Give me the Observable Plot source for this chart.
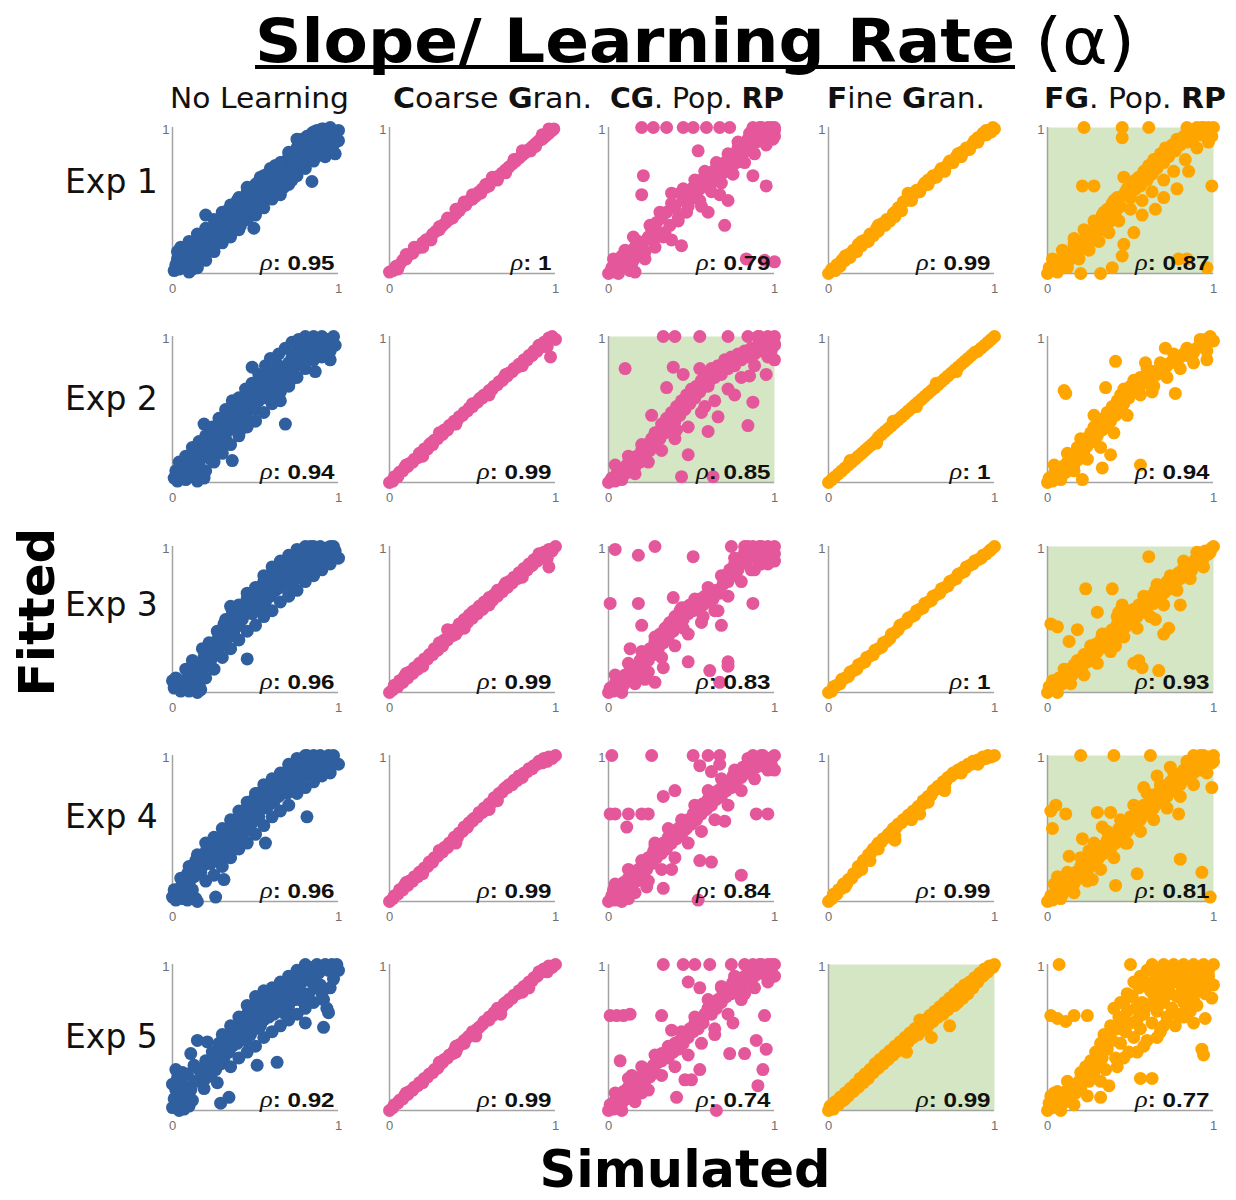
<!DOCTYPE html>
<html><head><meta charset="utf-8">
<script src="https://cdn.jsdelivr.net/npm/d3@7"></script>
<script src="https://cdn.jsdelivr.net/npm/@observablehq/plot@0.6"></script>
<style>
html,body{margin:0;padding:0;background:#fff;}
body{width:1236px;height:1200px;position:relative;overflow:hidden;}
#labels{position:absolute;left:0;top:0;}
</style></head><body>
<svg id="labels" width="1236" height="1200"></svg>
<script>
// ---- categories / labels ----
const columns = ["No Learning", "Coarse Gran.", "CG. Pop. RP", "Fine Gran.", "FG. Pop. RP"];
const experiments = ["Exp 1", "Exp 2", "Exp 3", "Exp 4", "Exp 5"];
const columnColors = ["#2f5f9f", "#e5579b", "#e5579b", "#ffa500", "#ffa500"];
const xTicks = [0, 1];
const yTicks = [1];
const rhoLabels = [
  ["0.95", "1", "0.79", "0.99", "0.87"],
  ["0.94", "0.99", "0.85", "1", "0.94"],
  ["0.96", "0.99", "0.83", "1", "0.93"],
  ["0.96", "0.99", "0.84", "0.99", "0.81"],
  ["0.92", "0.99", "0.74", "0.99", "0.77"]
];
const highlighted = [
  [false, false, false, false, true],
  [false, false, true, false, false],
  [false, false, false, false, true],
  [false, false, false, false, true],
  [false, false, false, true, false]
];

// ---- series values: [simulated, fitted] in hundredths ----
const exp1NoLearning = [[1,2],[2,6],[3,10],[4,3],[5,7],[6,12],[7,4],[8,9],[9,14],[10,6],[11,11],[12,3],[13,16],[14,9],[15,13],[3,15],[7,17],[16,20],[17,10],[18,17],[19,23],[20,14],[20,40],[21,20],[22,27],[23,17],[24,23],[25,31],[26,20],[27,27],[28,34],[29,24],[30,30],[31,37],[32,28],[33,43],[34,33],[35,40],[36,30],[37,46],[38,36],[39,50],[40,42],[41,33],[42,47],[43,52],[44,40],[45,56],[46,46],[47,52],[48,58],[49,31],[50,48],[51,62],[52,54],[53,66],[54,58],[55,50],[56,62],[57,68],[58,56],[59,72],[60,64],[61,58],[62,74],[63,66],[64,70],[65,61],[66,76],[67,59],[68,72],[69,66],[70,80],[71,70],[72,64],[73,76],[74,82],[75,72],[76,88],[77,80],[78,92],[79,76],[80,86],[81,94],[82,82],[83,90],[84,63],[84,96],[85,86],[86,92],[87,98],[88,84],[89,94],[90,88],[91,99],[92,90],[93,96],[94,86],[95,92],[96,97],[97,88],[98,94],[92,80],[75,92],
  [5,18],[10,22],[15,27],[20,31],[25,37],[30,42],[35,47],[40,52],[45,59],[50,61],[55,67],[60,71],[65,76],[70,83],[75,86],[80,91],[85,97],[90,99],[95,100],[100,98],[10,1],[15,4],[20,9],[25,15],[30,21],[35,25],[40,30],[45,37],[50,40],[55,45],[60,51],[65,54],[70,61],[75,67],[80,72],[85,77],[90,81],[95,85],[100,91],[98,82]];
const exp1CoarseGran = [[0,1],[2,2],[4,5],[6,6],[8,9],[10,10],[12,13],[14,14],[16,17],[18,18],[20,21],[22,23],[24,24],[26,27],[28,29],[30,30],[32,33],[34,35],[36,37],[38,38],[40,41],[42,43],[44,46],[46,47],[48,50],[50,51],[52,53],[54,56],[56,58],[58,59],[60,62],[62,64],[64,65],[66,67],[68,69],[70,71],[72,73],[74,75],[76,77],[78,79],[80,81],[82,83],[84,85],[86,87],[88,89],[90,91],[92,92],[94,94],[96,96],[98,98],[99,99],[45,49],[55,55],[62,66],[70,69],[30,32],[80,84],[88,87],
  [10,13],[20,18],[35,38],[50,54],[58,61],[65,64],[75,78],[85,84],[92,95],[96,99],[5,3],[15,18],[25,23],[40,44],[60,60]];
const exp1CGPopRP = [[20,100],[27,100],[35,100],[45,100],[51,100],[59,100],[67,100],[73,100],[87,100],[91,100],[96,100],[100,100],[54,84],[21,67],[20,54],[95,60],[70,33],[87,67],[83,10],[100,8],[94,9],[44,19],[67,54],[60,42],[38,23],[15,25],[72,50],[0,0],[2,4],[4,1],[5,8],[7,3],[8,12],[10,6],[12,14],[13,2],[15,9],[16,18],[18,12],[16,1],[20,20],[22,15],[24,25],[26,30],[27,22],[29,35],[30,28],[32,38],[33,25],[35,42],[37,33],[38,55],[40,45],[42,38],[43,55],[45,50],[47,42],[48,56],[50,58],[52,52],[53,62],[55,58],[56,46],[57,65],[59,60],[60,67],[62,62],[63,70],[65,66],[66,74],[68,68],[70,76],[71,70],[73,78],[74,72],[76,82],[77,76],[78,86],[80,80],[81,88],[83,84],[84,92],[86,88],[87,95],[89,90],[90,97],[92,92],[93,98],[95,94],[96,99],[98,96],[99,92],[100,98],
  [3,10],[6,0],[10,16],[14,4],[18,22],[22,10],[25,33],[28,18],[31,42],[34,28],[38,48],[42,36],[45,58],[48,46],[52,64],[55,50],[58,70],[62,56],[65,76],[68,62],[72,82],[75,68],[78,90],[82,76],[85,96],[88,82],[92,100],[95,88],[98,100],[100,94]];
const exp1FineGran = [[0,0],[2,3],[4,2],[5,6],[7,5],[8,9],[10,9],[12,13],[13,11],[15,16],[17,15],[18,20],[20,19],[22,23],[24,22],[25,27],[27,26],[29,31],[30,29],[32,34],[34,33],[35,37],[37,36],[39,41],[40,39],[42,45],[44,43],[45,49],[47,50],[48,53],[50,52],[52,55],[53,57],[55,56],[57,60],[58,62],[60,61],[62,65],[63,67],[65,66],[67,70],[68,72],[70,71],[72,75],[73,77],[75,76],[77,80],[78,82],[80,80],[82,84],[83,86],[85,85],[87,89],[88,91],[90,90],[92,94],[93,96],[95,95],[96,98],[98,97],[99,100],[100,99],
  [10,12],[20,22],[30,33],[40,42],[48,55],[50,50],[60,64],[70,70],[80,83],[90,93],[95,98]];
const exp1FGPopRP = [[22,100],[45,100],[61,100],[84,100],[90,100],[94,100],[97,100],[100,100],[45,93],[95,95],[99,94],[21,60],[28,60],[46,66],[78,58],[99,60],[20,0],[32,0],[39,4],[45,12],[46,20],[52,28],[79,10],[84,10],[96,4],[57,40],[65,44],[70,52],[85,70],[0,0],[1,4],[3,2],[4,8],[6,5],[8,10],[10,6],[11,13],[13,9],[15,15],[16,20],[18,14],[20,22],[22,18],[24,26],[26,22],[27,30],[29,25],[31,34],[33,40],[34,30],[36,44],[38,36],[39,48],[41,42],[42,52],[44,46],[46,54],[48,58],[50,52],[51,62],[53,58],[55,66],[56,60],[58,70],[60,64],[61,74],[63,68],[64,78],[66,72],[68,82],[70,76],[71,86],[73,80],[75,88],[77,84],[78,92],[80,88],[82,94],[84,90],[86,96],[88,93],[90,97],[92,95],[94,98],[96,96],[98,99],
  [3,10],[6,1],[9,16],[12,4],[16,24],[19,10],[22,30],[25,16],[28,36],[31,22],[34,42],[37,28],[40,50],[43,36],[47,56],[50,44],[53,64],[57,50],[60,70],[63,56],[66,78],[70,64],[73,84],[76,70],[80,92],[83,78],[86,98],[90,86],[93,100],[97,90]];

const exp2NoLearning = [[1,3],[2,8],[3,1],[5,5],[6,10],[8,2],[9,7],[10,13],[12,4],[13,9],[15,1],[16,14],[17,7],[19,3],[14,20],[16,24],[18,17],[19,40],[20,27],[21,21],[22,31],[23,16],[24,26],[25,35],[26,22],[27,30],[28,38],[29,26],[30,34],[31,42],[32,30],[33,47],[34,36],[35,41],[36,15],[37,50],[38,40],[39,55],[40,46],[41,36],[42,52],[43,44],[44,58],[45,48],[46,62],[47,54],[48,79],[49,60],[50,50],[51,66],[52,56],[53,70],[54,62],[55,74],[56,58],[57,68],[58,64],[59,85],[60,72],[61,60],[62,76],[63,68],[64,80],[65,56],[66,72],[67,78],[68,40],[69,74],[70,82],[71,70],[72,86],[73,78],[74,88],[75,82],[76,90],[77,86],[78,94],[79,84],[80,96],[81,90],[82,98],[83,88],[84,94],[85,100],[86,76],[87,92],[88,97],[89,90],[90,100],[91,95],[92,92],[93,98],[95,84],[96,96],[97,100],[98,94],
  [4,14],[8,18],[12,24],[16,28],[20,32],[24,38],[28,44],[32,50],[36,56],[40,58],[44,64],[48,68],[52,74],[56,80],[60,84],[64,88],[68,92],[72,96],[76,98],[80,100],[20,8],[25,14],[30,20],[35,26],[40,32],[45,38],[50,42],[55,48],[60,54],[65,62],[70,66],[75,72],[80,78],[85,84],[90,86],[95,90]];
const exp2CoarseGran = [[0,0],[2,1],[3,4],[5,4],[6,7],[8,8],[9,10],[11,11],[12,13],[14,14],[15,16],[17,17],[18,20],[20,20],[21,23],[23,23],[24,26],[26,26],[27,29],[29,30],[30,32],[32,33],[33,36],[35,36],[36,39],[38,40],[39,42],[41,43],[42,45],[44,46],[45,48],[47,49],[48,51],[50,52],[51,54],[53,55],[54,57],[56,58],[57,60],[59,61],[60,63],[62,64],[63,66],[65,67],[66,69],[68,70],[69,72],[71,73],[72,75],[74,76],[75,78],[77,79],[78,81],[80,82],[81,84],[83,84],[84,87],[86,87],[87,90],[89,90],[90,93],[92,93],[93,96],[95,96],[96,99],[97,86],[98,100],[100,98],
  [10,12],[20,18],[30,34],[40,40],[50,54],[60,60],[70,74],[80,80],[90,94],[95,93],[25,27],[55,58]];
const exp2CGPopRP = [[33,100],[40,100],[55,100],[72,100],[84,100],[91,100],[96,100],[100,100],[100,94],[100,84],[98,90],[10,78],[39,79],[45,74],[55,78],[62,73],[70,79],[85,73],[95,74],[60,35],[84,39],[87,55],[44,4],[63,4],[48,19],[41,36],[26,46],[48,60],[76,60],[35,65],[58,52],[66,45],[0,0],[2,3],[4,1],[5,6],[7,4],[8,9],[10,6],[11,12],[13,8],[14,15],[16,11],[17,18],[19,14],[20,22],[22,18],[23,26],[25,22],[26,30],[28,26],[29,34],[31,30],[32,40],[34,34],[35,44],[37,38],[38,48],[40,42],[41,52],[43,46],[44,56],[46,50],[47,60],[49,54],[50,64],[52,58],[53,66],[55,62],[56,70],[58,66],[59,74],[61,70],[62,78],[64,72],[66,80],[68,76],[70,84],[72,78],[74,86],[76,82],[78,88],[80,84],[82,90],[84,86],[86,92],[88,88],[90,94],[92,90],[94,96],[96,92],[98,97],[100,95],
  [4,12],[8,2],[12,18],[16,6],[20,26],[24,14],[28,34],[32,22],[36,42],[40,30],[44,50],[48,38],[52,58],[56,48],[60,66],[64,56],[68,74],[72,64],[76,80],[80,72],[84,88],[88,80],[92,96],[96,86],[90,100]];
const exp2FineGran = [[0,0],[2,2],[4,4],[6,6],[8,8],[10,10],[12,12],[14,14],[16,16],[18,18],[20,20],[22,22],[24,24],[26,26],[28,28],[30,31],[32,33],[34,35],[36,37],[38,39],[40,41],[42,43],[44,45],[46,47],[48,49],[50,51],[52,53],[54,55],[56,57],[58,59],[60,61],[62,63],[64,65],[66,67],[68,69],[70,71],[72,73],[74,75],[76,77],[78,79],[80,81],[82,83],[84,85],[86,87],[88,89],[90,90],[92,92],[94,94],[96,96],[98,98],[100,100],[13,15],[29,27],[39,42],[53,52],[65,68],[77,76]];
const exp2FGPopRP = [[11,61],[10,63],[41,83],[59,82],[71,92],[28,46],[38,19],[33,10],[21,2],[56,12],[77,61],[96,84],[35,65],[46,64],[63,62],[0,0],[1,3],[3,1],[4,6],[5,3],[7,8],[8,4],[9,11],[11,7],[12,14],[13,9],[15,16],[16,12],[17,20],[18,24],[19,16],[20,26],[22,22],[23,30],[24,25],[26,34],[27,28],[29,36],[30,32],[31,40],[33,36],[34,44],[35,38],[36,48],[38,42],[39,52],[41,46],[42,56],[43,50],[44,60],[46,54],[47,62],[49,58],[50,66],[52,62],[53,68],[55,64],[56,72],[58,68],[60,74],[62,70],[64,76],[66,74],[68,78],[70,76],[72,80],[74,82],[76,84],[78,82],[80,86],[82,88],[84,87],[86,90],[88,89],[90,92],[92,95],[94,93],[95,98],[97,96],[98,100],[100,97],
  [4,12],[8,2],[12,20],[16,8],[20,30],[24,16],[28,38],[32,24],[36,46],[40,34],[44,54],[48,46],[52,70],[56,60],[60,78],[64,66],[68,82],[72,72],[76,88],[80,78],[84,92],[88,82],[92,98],[96,90]];

const exp3NoLearning = [[0,8],[1,3],[2,10],[3,5],[5,1],[6,8],[8,3],[9,9],[10,1],[11,6],[13,3],[14,9],[15,0],[16,5],[17,2],[14,14],[16,20],[18,16],[19,24],[20,19],[22,28],[23,22],[25,32],[26,26],[27,36],[28,30],[30,40],[31,34],[31,47],[33,44],[34,38],[35,59],[36,48],[37,42],[38,52],[40,46],[41,56],[42,50],[43,60],[44,54],[45,23],[45,64],[46,57],[47,62],[48,54],[49,68],[50,60],[51,64],[52,72],[53,58],[54,66],[55,76],[56,62],[57,70],[58,80],[59,66],[60,74],[61,82],[62,70],[63,78],[64,86],[65,72],[66,80],[67,88],[68,76],[69,84],[70,74],[71,90],[72,82],[73,86],[74,78],[75,92],[76,84],[77,88],[78,96],[79,82],[80,90],[81,94],[82,86],[83,100],[84,92],[85,96],[86,88],[87,98],[88,94],[89,100],[90,90],[91,97],[92,94],[93,99],[94,92],[95,100],[96,96],[97,100],[98,97],
  [8,16],[12,22],[18,30],[22,34],[27,42],[32,50],[36,56],[40,60],[45,68],[50,72],[55,80],[60,86],[65,90],[70,94],[75,98],[80,100],[85,100],[20,10],[25,16],[30,24],[35,30],[40,36],[45,42],[50,46],[55,52],[60,56],[65,62],[70,66],[75,70],[80,76],[85,80],[90,84],[95,88],[100,92]];
const exp3CoarseGran = [[0,0],[2,2],[3,5],[5,4],[6,8],[8,7],[9,11],[11,10],[12,14],[14,13],[15,17],[17,16],[18,20],[20,20],[21,23],[23,23],[24,26],[26,26],[27,30],[29,29],[30,33],[32,32],[33,36],[35,36],[36,40],[38,39],[39,43],[41,42],[42,47],[44,45],[45,50],[47,48],[48,53],[50,51],[51,56],[53,54],[54,59],[56,57],[57,62],[59,60],[60,65],[62,63],[63,67],[65,66],[66,70],[68,69],[69,73],[71,72],[72,76],[74,75],[75,79],[77,78],[78,82],[80,81],[81,85],[83,84],[84,88],[86,87],[87,91],[89,90],[90,94],[92,92],[93,96],[95,95],[96,98],[98,97],[100,100],[96,86],[35,43],
  [10,13],[20,18],[30,34],[40,40],[50,55],[60,60],[70,75],[80,79],[90,95],[95,92],[45,44],[65,70]];
const exp3CGPopRP = [[4,98],[18,94],[28,100],[51,93],[74,100],[82,100],[87,100],[91,100],[96,100],[100,100],[1,61],[18,61],[39,65],[20,46],[13,30],[28,33],[48,21],[33,17],[22,9],[28,7],[61,15],[67,7],[72,21],[72,18],[68,46],[87,61],[66,56],[57,52],[45,44],[0,0],[1,3],[3,1],[4,6],[6,3],[7,9],[9,5],[10,12],[12,8],[13,15],[15,10],[16,18],[18,14],[19,22],[21,18],[22,26],[24,22],[25,30],[27,26],[28,35],[30,30],[31,40],[33,34],[34,44],[36,38],[37,48],[39,42],[40,52],[42,46],[43,56],[45,50],[46,58],[48,54],[49,60],[51,56],[52,62],[54,58],[55,64],[57,60],[58,66],[60,62],[61,68],[63,64],[65,70],[67,68],[69,74],[70,80],[72,76],[73,84],[75,80],[76,88],[78,84],[79,92],[80,88],[82,96],[83,90],[85,94],[86,84],[88,98],[89,92],[91,96],[92,88],[94,99],[95,94],[97,97],[98,90],[100,95],
  [4,12],[8,0],[12,20],[16,6],[20,28],[24,14],[28,38],[32,24],[36,46],[40,32],[44,58],[48,40],[52,64],[56,48],[60,72],[64,56],[68,80],[72,66],[76,92],[80,76],[84,100],[88,84],[92,100],[96,88],[100,90]];
const exp3FineGran = [[0,0],[2,1],[3,4],[5,5],[7,6],[8,9],[10,10],[12,11],[13,14],[15,15],[17,16],[18,19],[20,20],[22,21],[23,24],[25,25],[27,26],[28,29],[30,30],[32,31],[33,34],[35,35],[37,37],[38,40],[40,41],[42,43],[43,46],[45,47],[47,48],[48,51],[50,52],[52,53],[53,56],[55,57],[57,58],[58,61],[60,62],[62,63],[63,66],[65,67],[67,68],[68,71],[70,72],[72,73],[73,76],[75,77],[77,78],[78,81],[80,82],[82,83],[83,86],[85,87],[87,88],[88,90],[90,91],[92,92],[93,94],[95,95],[97,97],[98,98],[100,100]];
const exp3FGPopRP = [[2,47],[6,45],[18,43],[23,71],[39,71],[45,60],[61,93],[73,44],[41,32],[55,22],[52,20],[57,17],[67,15],[30,55],[43,55],[65,50],[80,60],[13,35],[33,40],[70,40],[0,0],[1,4],[3,2],[4,7],[6,4],[7,10],[9,6],[10,13],[12,9],[13,16],[15,12],[16,19],[18,15],[19,22],[21,18],[22,26],[24,21],[26,29],[27,24],[29,33],[30,28],[32,36],[34,31],[35,40],[37,35],[39,43],[40,38],[42,47],[44,42],[45,50],[47,45],[49,53],[50,48],[52,57],[54,52],[55,60],[57,55],[59,63],[60,58],[62,66],[64,61],[65,70],[67,65],[69,73],[70,68],[72,76],[74,71],[75,79],[77,74],[79,82],[80,78],[82,85],[84,81],[85,88],[87,84],[89,91],[90,88],[92,94],[94,92],[95,97],[97,95],[99,99],[100,100],
  [3,8],[6,0],[10,16],[14,6],[18,22],[22,12],[26,32],[30,20],[34,38],[38,28],[42,52],[46,38],[50,56],[54,44],[58,66],[62,52],[66,74],[70,60],[74,80],[78,70],[82,90],[86,78],[90,96],[94,86],[98,96]];

const exp4NoLearning = [[0,3],[1,8],[2,1],[4,5],[5,10],[6,2],[8,7],[9,1],[10,12],[11,4],[12,8],[14,2],[15,0],[26,3],[31,15],[9,19],[11,24],[13,17],[14,28],[15,22],[17,20],[18,30],[19,25],[20,34],[22,29],[23,26],[24,38],[25,32],[27,42],[28,35],[29,29],[30,40],[31,46],[32,36],[33,48],[34,42],[35,52],[36,38],[37,46],[38,56],[39,50],[40,44],[41,58],[42,52],[43,62],[44,48],[45,56],[46,66],[47,60],[48,54],[49,70],[50,62],[51,74],[52,58],[53,68],[54,72],[55,64],[56,40],[56,76],[57,70],[58,66],[59,80],[60,74],[61,68],[62,78],[63,84],[64,72],[65,80],[66,76],[67,88],[68,82],[69,74],[70,86],[71,90],[72,80],[73,84],[74,94],[75,88],[76,82],[77,92],[78,96],[79,86],[80,92],[81,58],[81,100],[82,90],[83,96],[84,88],[85,100],[86,94],[87,98],[88,92],[89,100],[90,96],[91,90],[92,98],[93,94],[94,100],[95,92],[96,97],[97,100],[98,95],
  [5,16],[10,24],[15,32],[20,40],[25,44],[30,50],[35,56],[40,62],[45,68],[50,74],[55,80],[60,84],[65,88],[70,94],[75,98],[80,100],[20,14],[25,18],[30,24],[35,30],[40,36],[45,40],[50,46],[55,52],[60,58],[65,62],[70,66],[75,74],[80,78],[85,82],[90,86],[95,88],[100,94]];
const exp4CoarseGran = [[0,0],[2,2],[3,4],[5,5],[6,8],[8,8],[9,11],[11,11],[12,14],[14,14],[15,17],[17,17],[18,20],[20,21],[21,23],[23,24],[24,27],[26,27],[27,30],[29,31],[30,33],[32,34],[33,37],[35,37],[36,40],[38,41],[39,44],[41,44],[42,47],[44,48],[45,51],[47,51],[48,54],[50,55],[51,57],[53,58],[54,61],[56,61],[57,64],[59,65],[60,67],[62,68],[63,71],[65,71],[66,74],[68,75],[69,77],[71,78],[72,80],[74,80],[75,83],[77,83],[78,86],[80,86],[81,88],[83,89],[84,91],[86,91],[87,93],[89,94],[90,96],[92,95],[93,98],[95,97],[96,99],[98,98],[100,100],
  [10,13],[20,19],[30,35],[40,40],[50,56],[60,63],[70,78],[80,85],[90,95],[95,96],[45,50],[65,69]];
const exp4CGPopRP = [[2,100],[26,100],[51,100],[60,100],[67,100],[87,100],[90,96],[93,100],[96,98],[100,100],[98,94],[100,90],[92,93],[55,93],[62,89],[67,94],[40,76],[33,72],[1,60],[4,60],[12,60],[20,60],[24,60],[11,51],[89,60],[96,60],[55,28],[62,27],[80,18],[33,9],[23,10],[54,1],[12,2],[4,1],[28,40],[45,48],[70,55],[38,22],[0,0],[2,4],[3,8],[5,3],[6,10],[8,6],[9,13],[11,9],[12,16],[14,12],[15,19],[17,14],[18,22],[20,18],[21,26],[23,22],[24,30],[26,26],[27,34],[29,30],[30,37],[32,33],[33,40],[35,36],[36,44],[38,40],[39,47],[41,43],[42,50],[44,46],[45,53],[47,50],[48,56],[50,53],[51,60],[53,56],[54,63],[56,60],[57,67],[59,63],[60,70],[62,66],[63,73],[65,70],[66,76],[68,72],[69,80],[71,76],[72,82],[74,78],[75,86],[77,82],[78,89],[80,85],[81,92],[83,88],[84,94],[86,90],[87,96],[89,92],[91,98],[93,95],[95,98],[97,96],[99,99],
  [4,12],[8,0],[12,22],[16,6],[20,28],[24,14],[28,38],[32,22],[36,50],[40,30],[44,56],[48,40],[52,66],[56,48],[60,76],[64,56],[68,84],[72,66],[76,90],[80,76],[84,98],[88,84],[92,100],[96,90]];
const exp4FineGran = [[0,0],[2,2],[3,5],[5,5],[6,8],[8,9],[9,12],[11,12],[12,15],[14,16],[15,19],[17,20],[18,24],[20,25],[21,28],[23,29],[24,32],[26,34],[27,36],[29,38],[30,40],[32,41],[33,43],[35,44],[36,46],[38,48],[39,50],[41,51],[42,53],[44,54],[45,56],[47,57],[48,59],[50,60],[51,62],[53,63],[54,65],[56,66],[57,69],[59,70],[60,72],[62,73],[63,76],[65,77],[66,79],[68,80],[69,82],[71,83],[72,85],[74,86],[75,88],[77,88],[78,90],[80,90],[81,92],[83,92],[84,94],[86,94],[87,96],[89,96],[90,97],[92,97],[93,99],[95,98],[96,100],[98,99],[100,100],[70,78],[55,60],[40,45],[25,28],
  [10,10],[20,22],[30,36],[40,42],[50,56],[60,68],[70,76],[80,88],[90,94]];
const exp4FGPopRP = [[20,100],[40,100],[62,100],[88,100],[91,97],[94,100],[97,99],[100,100],[92,93],[99,95],[2,62],[5,66],[11,60],[30,61],[38,61],[33,51],[21,43],[13,31],[6,17],[27,15],[41,11],[54,19],[80,29],[93,20],[98,3],[99,78],[79,60],[3,50],[25,35],[47,40],[0,0],[2,4],[3,1],[5,7],[6,3],[8,10],[9,5],[11,12],[13,8],[14,15],[16,12],[17,20],[19,16],[20,24],[22,20],[23,27],[25,23],[26,31],[28,26],[29,34],[31,30],[33,38],[34,33],[36,42],[38,36],[39,46],[41,40],[43,50],[44,44],[46,54],[48,48],[50,58],[52,52],[54,62],[56,56],[58,66],[60,60],[62,70],[64,64],[66,74],[68,68],[70,78],[72,72],[74,82],[76,76],[78,86],[80,80],[82,90],[84,84],[86,92],[88,88],[90,95],[92,90],[94,97],[96,94],[98,98],
  [4,12],[8,2],[12,20],[16,6],[20,30],[24,14],[28,40],[32,22],[36,48],[40,30],[44,56],[48,40],[52,66],[56,48],[60,74],[64,56],[68,80],[72,64],[76,88],[80,72],[84,96],[88,80],[92,100],[96,88],[100,96],[58,78],[66,86],[74,92]];

const exp5NoLearning = [[0,2],[1,8],[2,14],[3,22],[2,28],[4,4],[5,12],[6,18],[7,1],[8,9],[9,25],[10,3],[11,14],[12,7],[13,20],[0,18],[4,0],[6,26],[15,48],[21,47],[11,39],[13,31],[24,31],[29,5],[34,9],[19,15],[27,19],[33,41],[63,33],[51,31],[91,57],[80,60],[94,67],[84,88],[99,100],[16,20],[18,26],[20,22],[22,30],[23,24],[25,34],[26,28],[28,38],[29,32],[30,44],[31,36],[33,48],[34,40],[35,52],[36,44],[38,54],[39,46],[40,58],[41,50],[42,62],[43,54],[44,48],[45,66],[46,58],[47,52],[48,70],[49,62],[50,56],[51,74],[52,64],[53,58],[54,68],[55,62],[56,76],[57,70],[58,64],[59,78],[60,72],[61,66],[62,80],[63,74],[64,68],[65,82],[66,76],[67,70],[68,84],[69,78],[70,72],[71,86],[72,80],[73,90],[74,76],[75,84],[76,94],[77,82],[78,88],[79,74],[80,96],[81,90],[82,80],[83,98],[85,92],[86,84],[87,100],[88,94],[89,86],[90,98],[91,76],[92,100],[93,70],[94,96],[96,100],[97,90],
  [30,52],[35,58],[40,64],[45,72],[50,78],[55,82],[60,84],[65,88],[70,92],[75,96],[80,100],[35,30],[40,36],[45,40],[50,44],[55,50],[60,54],[65,58],[70,62],[75,66],[80,70],[85,74],[90,80],[95,84],[100,96],[20,34],[24,40],[16,28],[28,46],[44,58],[56,64],[68,66]];
const exp5CoarseGran = [[0,0],[2,2],[3,4],[5,5],[6,7],[8,8],[9,10],[11,11],[12,13],[14,14],[15,16],[17,17],[18,19],[20,20],[21,22],[23,23],[24,25],[26,26],[27,28],[29,29],[30,31],[32,33],[33,35],[35,36],[36,38],[38,39],[39,41],[41,43],[42,45],[44,46],[45,48],[47,50],[48,51],[50,53],[51,54],[53,56],[54,57],[56,59],[57,61],[59,62],[60,64],[62,65],[63,67],[65,68],[66,70],[68,71],[69,73],[71,74],[72,76],[74,77],[75,79],[77,80],[78,82],[80,83],[81,85],[83,86],[84,88],[86,89],[87,91],[89,92],[90,94],[92,95],[93,97],[95,97],[96,99],[98,98],[100,100],[52,51],[67,66],[40,44],[84,84],
  [10,12],[20,19],[30,33],[40,40],[50,54],[60,62],[70,74],[80,81],[90,95],[95,95],[45,46],[65,70]];
const exp5CGPopRP = [[33,100],[45,100],[52,100],[61,100],[74,100],[82,100],[87,100],[91,100],[96,100],[100,100],[48,88],[98,96],[100,92],[1,65],[5,65],[9,65],[13,66],[7,34],[32,65],[55,84],[68,85],[82,80],[94,65],[89,48],[95,42],[73,39],[82,39],[93,28],[90,17],[46,21],[50,21],[41,9],[65,0],[55,28],[32,39],[41,44],[60,70],[75,60],[38,55],[64,52],[0,0],[1,4],[3,1],[4,7],[5,3],[7,10],[8,5],[9,13],[11,8],[12,16],[13,11],[15,19],[16,14],[18,22],[19,17],[21,25],[22,20],[24,28],[25,23],[27,31],[28,26],[30,33],[14,24],[20,12],[32,34],[34,38],[36,36],[37,42],[39,40],[40,46],[42,42],[43,48],[45,46],[46,52],[48,50],[49,56],[51,54],[52,60],[54,56],[55,62],[57,60],[58,66],[60,70],[62,66],[63,72],[65,70],[66,76],[68,74],[69,80],[71,78],[72,84],[74,80],[75,88],[77,84],[78,90],[80,86],[82,92],[84,88],[86,94],[88,92],[90,96],[92,94],[94,98],[96,96],[98,100],
  [4,12],[8,0],[12,22],[16,6],[20,30],[24,14],[28,38],[32,24],[36,44],[40,30],[44,54],[48,38],[52,64],[56,46],[60,76],[64,56],[68,84],[72,66],[76,92],[80,76],[84,98],[88,84],[92,100],[96,88]];
const exp5FineGran = [[0,0],[1,3],[3,1],[4,6],[6,4],[7,9],[9,7],[10,12],[12,10],[13,15],[15,13],[16,18],[18,16],[19,22],[21,19],[22,25],[24,22],[25,28],[27,26],[28,32],[30,29],[31,35],[33,32],[34,38],[36,35],[37,41],[39,38],[40,44],[42,41],[43,47],[45,44],[46,50],[48,47],[49,53],[51,50],[52,56],[54,52],[55,59],[57,55],[58,62],[60,58],[61,65],[63,61],[64,68],[66,64],[67,71],[69,66],[70,74],[72,69],[73,77],[75,72],[76,80],[78,74],[79,83],[81,77],[82,86],[84,80],[85,88],[87,84],[88,91],[90,88],[91,94],[93,92],[94,97],[96,95],[97,99],[99,98],[100,100],[73,58],[62,50],[47,40],[55,62],
  [10,8],[20,22],[30,32],[40,40],[50,52],[60,60],[70,70],[80,80],[90,92],[85,84],[76,72],[66,68]];
const exp5FGPopRP = [[7,100],[50,100],[63,100],[70,100],[76,100],[82,100],[88,100],[94,100],[100,100],[67,95],[85,94],[97,96],[2,65],[6,63],[11,61],[16,65],[24,65],[95,63],[99,77],[93,42],[94,38],[56,22],[63,22],[32,9],[37,17],[88,60],[91,82],[0,0],[1,5],[2,10],[3,2],[5,7],[6,13],[8,4],[9,10],[11,6],[12,14],[14,9],[15,17],[17,12],[19,20],[20,15],[22,24],[23,30],[25,20],[26,34],[28,26],[29,40],[30,30],[32,46],[33,36],[34,52],[35,28],[36,42],[38,58],[39,48],[40,70],[41,36],[42,56],[43,64],[44,46],[45,62],[46,74],[47,54],[48,68],[49,40],[50,60],[51,78],[52,50],[53,70],[54,62],[55,84],[56,56],[57,74],[58,66],[59,88],[60,48],[61,72],[62,82],[63,60],[64,76],[65,90],[66,68],[67,80],[68,54],[69,86],[70,74],[71,92],[72,64],[73,82],[74,80],[75,70],[76,88],[77,58],[78,78],[79,96],[80,66],[81,84],[82,74],[83,92],[84,70],[86,86],[87,78],[89,90],[90,72],[92,88],[95,80],[97,92],
  [4,12],[8,0],[12,20],[16,4],[20,26],[24,10],[28,32],[32,20],[36,52],[40,56],[44,74],[48,80],[52,88],[56,92],[60,96],[64,86],[68,92],[72,98],[76,94],[80,90],[84,82],[88,76],[92,94],[96,88],[100,86],[42,30],[46,36],[54,40],[58,44],[66,50],[70,58],[78,66],[82,64],[86,68],[90,84]];

const panelSeries = [
  [exp1NoLearning, exp1CoarseGran, exp1CGPopRP, exp1FineGran, exp1FGPopRP],
  [exp2NoLearning, exp2CoarseGran, exp2CGPopRP, exp2FineGran, exp2FGPopRP],
  [exp3NoLearning, exp3CoarseGran, exp3CGPopRP, exp3FineGran, exp3FGPopRP],
  [exp4NoLearning, exp4CoarseGran, exp4CGPopRP, exp4FineGran, exp4FGPopRP],
  [exp5NoLearning, exp5CoarseGran, exp5CGPopRP, exp5FineGran, exp5FGPopRP]
];

// ---- layout ----
const panelLeft = [172, 389, 608, 828, 1047];
const panelTop = [127, 336, 546, 755, 964];
const PW = 166, PH = 146;
const M = {top: 12, right: 14, bottom: 28, left: 24};

const body = document.body;
panelSeries.forEach((row, r) => {
  row.forEach((series, c) => {
    const table = series.map(([s, f]) => ({simulated: s / 100, fitted: f / 100}));
    const marks = [];
    if (highlighted[r][c]) marks.push(Plot.frame({fill: "#d5e6c4", stroke: "none"}));
    marks.push(
      Plot.ruleX([0], {stroke: "#a3a3a3", strokeWidth: 1.5}),
      Plot.ruleY([0], {stroke: "#a3a3a3", strokeWidth: 1.5}),
      Plot.axisX({ticks: xTicks, tickSize: 0, tickPadding: 10, fontSize: 13, color: "#707070", label: null, tickFormat: d => String(d)}),
      Plot.axisY({ticks: yTicks, tickSize: 0, tickPadding: 3, fontSize: 13, color: "#707070", dy: 2, label: null, tickFormat: d => String(d)}),
      Plot.dot(table, {x: "simulated", y: "fitted", r: 6.5, fill: columnColors[c], stroke: "none"}),
      Plot.text([rhoLabels[r][c]], {frameAnchor: "bottom-right", text: d => "ρ: " + d, dx: -4, dy: -4,
        textAnchor: "end", lineAnchor: "bottom", fontSize: 21, fontWeight: "bold", fill: "#111"})
    );
    const svg = Plot.plot({
      width: PW + M.left + M.right,
      height: PH + M.top + M.bottom,
      marginLeft: M.left, marginRight: M.right, marginTop: M.top, marginBottom: M.bottom,
      x: {domain: [0, 1]},
      y: {domain: [0, 1]},
      style: {background: "transparent", fontFamily: "'Liberation Sans', Arial, sans-serif", overflow: "visible"},
      marks
    });
    svg.style.position = "absolute";
    svg.style.left = (panelLeft[c] - M.left) + "px";
    svg.style.top = (panelTop[r] - M.top) + "px";
    body.appendChild(svg);
    d3.select(svg).selectAll('g[aria-label="text"] text').each(function () {
      const label = rhoLabels[r][c];
      this.textContent = "";
      const t = d3.select(this);
      t.append("tspan").attr("font-family", "'Liberation Serif', 'DejaVu Serif', serif")
        .attr("font-style", "italic").attr("font-weight", "normal").attr("font-size", 23).text("ρ");
      t.append("tspan").text(": " + label);
      const len = this.getComputedTextLength();
      t.attr("textLength", len * 1.15).attr("lengthAdjust", "spacingAndGlyphs");
    });
  });
});

// ---- titles and labels ----
const L = d3.select("#labels");
const sans = "'DejaVu Sans', Verdana, sans-serif";
L.append("text").attr("x", 255).attr("y", 62).attr("font-family", sans)
  .attr("font-weight", "bold").attr("font-size", 60).attr("fill", "#000")
  .attr("textLength", 760).attr("lengthAdjust", "spacingAndGlyphs").text("Slope/ Learning Rate");
L.append("rect").attr("x", 255).attr("y", 65).attr("width", 760).attr("height", 4).attr("fill", "#000");
L.append("text").attr("x", 1035).attr("y", 64).attr("font-family", sans)
  .attr("font-size", 64).attr("fill", "#000")
  .attr("textLength", 100).attr("lengthAdjust", "spacingAndGlyphs").text("(α)");

// column headers with bold initials
const headerParts = [
  [["No Learning", false]],
  [["C", true], ["oarse ", false], ["G", true], ["ran.", false]],
  [["CG", true], [". Pop. ", false], ["RP", true]],
  [["F", true], ["ine ", false], ["G", true], ["ran.", false]],
  [["FG", true], [". Pop. ", false], ["RP", true]]
];
const headerX = [170, 393, 610, 827, 1044];
const headerW = [179, 199, 174, 158, 182];
headerParts.forEach((parts, i) => {
  const t = L.append("text").attr("x", headerX[i]).attr("y", 108).attr("font-family", sans)
    .attr("font-size", 29).attr("fill", "#111").style("white-space", "pre")
    .attr("textLength", headerW[i]).attr("lengthAdjust", "spacingAndGlyphs");
  parts.forEach(([s, b]) => t.append("tspan").attr("font-weight", b ? "bold" : "normal").text(s));
});

const rowBaseline = [193, 410, 616, 828, 1048];
experiments.forEach((e, i) => {
  L.append("text").attr("x", 65).attr("y", rowBaseline[i]).attr("font-family", sans)
    .attr("font-size", 33).attr("fill", "#111").text(e);
});

L.append("text").attr("transform", "translate(54,612) rotate(-90)").attr("text-anchor", "middle")
  .attr("font-family", sans).attr("font-weight", "bold").attr("font-size", 50).attr("fill", "#000").text("Fitted");
L.append("text").attr("x", 685).attr("y", 1187).attr("text-anchor", "middle")
  .attr("font-family", sans).attr("font-weight", "bold").attr("font-size", 51).attr("fill", "#000").text("Simulated");
</script>
</body></html>
